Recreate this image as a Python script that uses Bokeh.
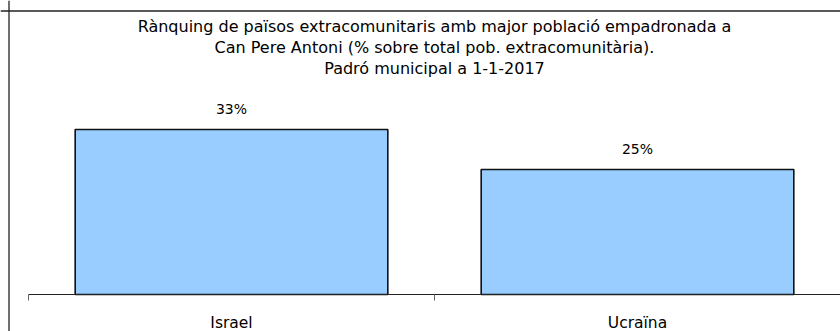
from bokeh.plotting import figure
from bokeh.models import Range1d, Span, Label, ColumnDataSource
from bokeh.core.properties import value
from bokeh.embed import file_html
from bokeh.resources import INLINE

# ---- data ----
categories = ["Israel", "Ucraïna"]
percent = [33, 25]
title_lines = [
    "Rànquing de països extracomunitaris amb major població empadronada a",
    "Can Pere Antoni (% sobre total pob. extracomunitària).",
    "Padró municipal a 1-1-2017",
]

FONT = "DejaVu Sans"
W, H = 840, 331
# pixel geometry (figure coords) -> data ranges
AX_X0, PX_PER_CAT = 28.0, 406.0
AX_Y0, PX_PER_PCT = 294.0, 5.0
def dx(px):
    return (px - AX_X0) / PX_PER_CAT
def dy(py):
    return (AX_Y0 - py) / PX_PER_PCT

p = figure(width=W, height=H, output_backend="svg", toolbar_location=None,
           x_range=Range1d(dx(0), dx(W)), y_range=Range1d(dy(H), dy(0)),
           min_border=0, min_border_left=0, min_border_right=0,
           min_border_top=0, min_border_bottom=0)
p.axis.visible = False
p.grid.visible = False
p.outline_line_color = None
p.background_fill_color = "white"
p.border_fill_color = "white"

n = len(categories)
xs = [i + 0.5 for i in range(n)]
src = ColumnDataSource(dict(x=xs, top=percent, cat=categories,
                            lab=[f"{v}%" for v in percent]))

p.vbar(x="x", top="top", bottom=0, width=0.77, source=src,
       fill_color="#99CCFF", line_color="#111111", line_width=1.6)

# category axis
p.segment(x0=[0], y0=[0], x1=[n], y1=[0], line_color="#222222", line_width=1)
ticks = list(range(n + 1))
p.segment(x0=ticks, y0=[0] * len(ticks), x1=ticks, y1=[-6 / PX_PER_PCT] * len(ticks),
          line_color="#666666", line_width=1)
p.text(x="x", y=0, text="cat", source=src, text_align="center",
       text_baseline="alphabetic", y_offset=28, text_font=value(FONT),
       text_font_size="15.5px", text_color="black")

# value labels
p.text(x="x", y="top", text="lab", source=src, text_align="center",
       text_baseline="alphabetic", y_offset=-21, text_font=value(FONT),
       text_font_size="14px", text_color="black")

# title
p.add_layout(Label(x=n / 2, y=dy(16), text="\n".join(title_lines),
                   text_align="center", text_baseline="top",
                   text_font=FONT, text_font_size="16px",
                   text_line_height=1.13, text_color="black"))

# chart area frame (left and top edges visible in the crop)
p.add_layout(Span(location=dx(8.5), dimension="height", line_color="#222222", line_width=1.3))
p.add_layout(Span(location=dy(10.5), dimension="width", line_color="#222222", line_width=1.3))

open("out.html", "w").write(file_html(p, INLINE))
